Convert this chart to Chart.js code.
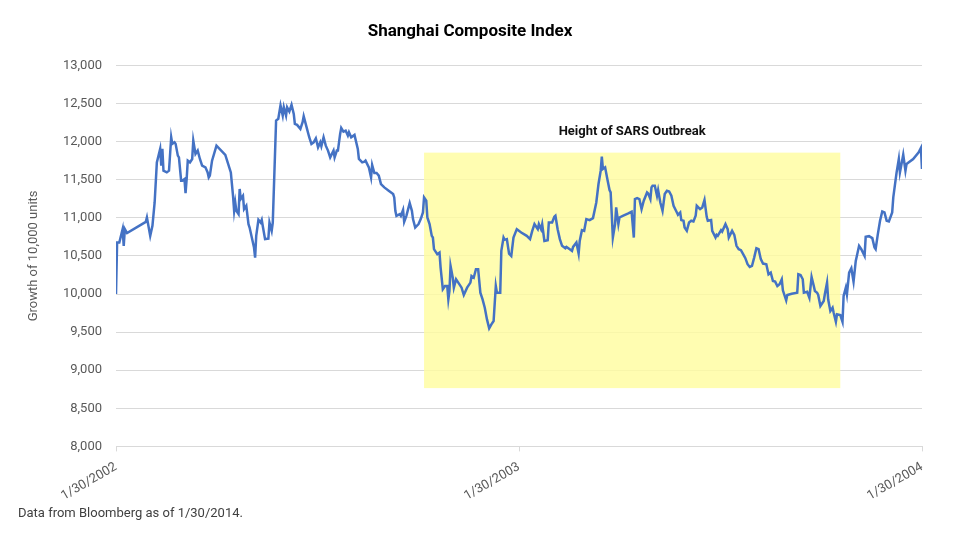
<!DOCTYPE html>
<html>
<head>
<meta charset="utf-8">
<script src="https://cdn.jsdelivr.net/npm/chart.js@4"></script>
<style>
  html, body { margin: 0; padding: 0; background: #fff; }
  #wrap { width: 960px; height: 540px; }
</style>
</head>
<body>
<div id="wrap"><canvas id="chart"></canvas></div>
<script>
// days since 1/30/2002
const days = [
  0, 1, 3, 6, 7, 8, 10, 27, 28, 31,
  33, 35, 37, 40, 41, 42, 43, 46, 48, 50,
  51, 53, 54, 56, 57, 59, 60, 62, 63, 64,
  65, 67, 69, 70, 72, 74, 76, 78, 81, 83,
  84, 85, 87, 91, 99, 104, 106, 107, 108, 109,
  111, 112, 113, 115, 116, 118, 120, 121, 124, 125,
  126, 127, 129, 131, 132, 133, 135, 138, 139, 141,
  142, 145, 147, 149, 151, 152, 154, 155, 157, 159,
  161, 162, 164, 167, 169, 170, 173, 175, 177, 179,
  181, 183, 185, 186, 188, 190, 192, 194, 197, 198,
  200, 201, 203, 204, 206, 208, 210, 211, 213, 216,
  219, 220, 223, 225, 226, 229, 231, 232, 234, 236,
  238, 240, 243, 247, 251, 252, 253, 254, 257, 258,
  260, 261, 263, 266, 268, 269, 271, 274, 276, 278,
  279, 281, 282, 284, 286, 287, 288, 289, 291, 293,
  294, 296, 298, 300, 301, 302, 303, 305, 306, 308,
  310, 313, 315, 318, 321, 322, 324, 326, 328, 330,
  332, 334, 336, 338, 340, 342, 344, 345, 348, 349,
  351, 352, 354, 356, 358, 360, 363, 367, 372, 375,
  377, 379, 380, 382, 383, 385, 386, 388, 391, 392,
  395, 397, 398, 400, 402, 404, 407, 408, 411, 413,
  414, 417, 419, 420, 422, 424, 426, 429, 432,
  435, 437, 439, 440, 441, 443, 445, 447, 448, 449,
  450, 452, 453, 455, 456, 459, 464, 467, 469, 470,
  472, 474, 476, 478, 481, 482, 484, 485, 486, 488,
  490, 491, 493, 495, 497, 499, 501, 503, 505, 508,
  509, 511, 512, 514, 515, 517, 519, 521, 523, 525,
  526, 529, 531, 533, 535, 536, 539, 540, 543, 544,
  545, 548, 549, 552, 554, 555, 558, 560, 562, 564,
  566, 568, 570, 572, 574,
  576, 578, 580, 582, 584, 586, 589, 591, 593, 595,
  597, 599, 601, 603, 604, 607, 608, 612, 617, 618,
  620, 622, 623, 626, 628, 630, 632, 633, 635, 636,
  638, 641, 642, 644, 645, 647, 649, 650, 652, 653,
  656, 658, 659, 661, 662, 664, 666, 668, 670, 671,
  673, 675, 678, 679, 682, 685, 687, 688, 690, 692,
  694, 696, 698, 700, 703, 704, 706, 707, 709, 710,
  712, 713, 715, 716, 722, 727, 729, 730
];

// growth of 10,000 units
const values = [
  10000, 10675, 10675, 10851, 10632, 10851, 10799, 10947, 11004, 10763,
  10895, 11201, 11728, 11904, 11684, 11904, 11618, 11596, 11618, 12057,
  11970, 11991, 11970, 11816, 11793, 11487, 11487, 11509, 11325, 11509,
  11750, 11728, 11772, 12013, 11838, 11882, 11772, 11684, 11662, 11596,
  11530, 11553, 11750, 11947, 11825, 11596, 11289, 11092, 11201, 11092,
  11049, 11378, 11246, 11289, 11114, 11158, 10917, 10872, 10675, 10609,
  10478, 10763, 10974, 10938, 10974, 10886, 10720, 10727, 10938, 10829,
  10938, 12276, 12299, 12474, 12342, 12451, 12342, 12451, 12395, 12483,
  12364, 12233, 12220, 12167, 12254, 12333, 12167, 12057, 11970, 11991,
  12043, 11925, 11991, 11938, 12057, 11947, 11882, 11793, 11882, 11793,
  11882, 11882, 12101, 12180, 12132, 12145, 12079, 12122, 12057, 12088,
  11904, 11772, 11728, 11737, 11750, 11662, 11530, 11693, 11588, 11588,
  11553, 11443, 11399, 11355, 11312, 11267, 11092, 11026, 11049, 11026,
  11105, 10947, 11026, 11193, 11092, 10983, 10872, 10917, 10983, 11070,
  11267, 11224, 11004, 10917, 10763, 10741, 10588, 10566, 10522, 10544,
  10346, 10062, 10105, 10105, 9930, 10039, 10368, 10214, 10083, 10193,
  10149, 10083, 9987, 10083, 10149, 10237, 10214, 10325, 10325, 10017,
  9930, 9820, 9667, 9549, 9601, 9645, 10105, 10017, 10017, 10566,
  10741, 10711, 10720, 10530, 10500, 10741, 10851, 10807, 10763, 10720,
  10829, 10917, 10895, 10851, 10917, 10851, 10917, 10697, 10707, 10938,
  10938, 11013, 11026, 10851, 10720, 10632, 10601, 10618, 10588, 10566,
  10618, 10675, 10530, 10697, 10838, 10829, 10983, 10970, 10996,
  11201, 11443, 11618, 11803, 11641, 11662, 11509, 11364, 11333, 11049,
  10741, 10917, 11136, 10917, 11004, 11026, 11057, 11079, 10741, 11246,
  11259, 11246, 11114, 11224, 11333, 11320, 11246, 11399, 11421, 11421,
  11289, 11364, 11201, 11092, 11312, 11355, 11345, 11289, 11158, 11070,
  11039, 11070, 10970, 10961, 10872, 10829, 10938, 10961, 10951, 11026,
  11158, 11114, 11136, 11233, 11013, 10961, 10970, 10829, 10741, 10776,
  10763, 10838, 10820, 10917, 10851, 10741, 10829, 10776, 10632, 10588,
  10575, 10522, 10470, 10391, 10355,
  10368, 10478, 10601, 10588, 10457, 10399, 10391, 10259, 10280, 10171,
  10162, 10105, 10128, 10193, 10049, 9917, 9987, 10004, 10017, 10259,
  10250, 10193, 10017, 10030, 9951, 10224, 10105, 10039, 10017, 9987,
  9842, 9908, 9996, 10149, 9930, 9776, 9820, 9754, 9636, 9733,
  9724, 9636, 9974, 10083, 9996, 10280, 10338, 10162, 10434, 10500,
  10632, 10588, 10500, 10750, 10759, 10733, 10609, 10588, 10786, 10961,
  11083, 11070, 10961, 10951, 11070, 11267, 11487, 11596, 11772, 11596,
  11750, 11829, 11618, 11707, 11772, 11859, 11917, 11641
];

const xTickDays = [0, 365, 730];
const xTickLabels = ['1/30/2002', '1/30/2003', '1/30/2004'];

// shaded period
const sarsLabel = 'Height of SARS Outbreak';
const sarsStart = 279;
const sarsEnd = 656;
const sarsLow = 8765;
const sarsHigh = 11855;

const points = days.map((d, i) => ({ x: d, y: values[i] }));

// yellow box + label behind the line
const sarsBox = {
    id: 'sarsBox',
    beforeDatasetsDraw(chart) {
        const { ctx, scales } = chart;
        const x1 = scales.x.getPixelForValue(sarsStart);
        const x2 = scales.x.getPixelForValue(sarsEnd);
        const y1 = scales.y.getPixelForValue(sarsHigh);
        const y2 = scales.y.getPixelForValue(sarsLow);
        ctx.save();
        ctx.fillStyle = 'rgba(255, 253, 160, 0.82)';
        ctx.fillRect(x1, y1, x2 - x1, y2 - y1);
        ctx.fillStyle = '#111';
        ctx.font = 'bold 13px Roboto';
        ctx.textAlign = 'center';
        ctx.textBaseline = 'middle';
        ctx.fillText(sarsLabel, (x1 + x2) / 2, y1 - 21);
        ctx.restore();
    }
};

new Chart(document.getElementById('chart'), {
    type: 'line',
    data: {
        datasets: [{
            data: points,
            borderColor: '#4472C4',
            borderWidth: 2.5,
            pointRadius: 0,
            tension: 0,
            fill: false
        }]
    },
    options: {
        responsive: true,
        maintainAspectRatio: false,
        animation: false,
        layout: { padding: { left: 18, right: 38, top: 22, bottom: 18 } },
        plugins: {
            legend: { display: false },
            tooltip: { enabled: false },
            title: {
                display: true,
                text: 'Shanghai Composite Index',
                color: '#000',
                font: { family: 'Roboto', size: 17, weight: 'bold' },
                padding: { top: 0, bottom: 23 }
            },
            subtitle: {
                display: true,
                text: 'Data from Bloomberg as of 1/30/2014.',
                position: 'bottom',
                align: 'start',
                color: '#404040',
                font: { family: 'Roboto', size: 13 },
                padding: { top: 0, bottom: 0 }
            }
        },
        scales: {
            x: {
                type: 'linear',
                min: 0,
                max: 730,
                afterBuildTicks: (axis) => { axis.ticks = xTickDays.map(v => ({ value: v })); },
                afterFit: (axis) => { axis.height = 60; },
                ticks: {
                    minRotation: 30,
                    maxRotation: 30,
                    color: '#595959',
                    font: { family: 'Roboto', size: 13 },
                    padding: 8,
                    callback: (v) => xTickLabels[xTickDays.indexOf(v)]
                },
                grid: { drawOnChartArea: false, drawTicks: true, tickLength: 5, color: '#d9d9d9' },
                border: { display: false }
            },
            y: {
                min: 8000,
                max: 13000,
                afterFit: (axis) => { axis.width = 98; },
                ticks: {
                    stepSize: 500,
                    color: '#595959',
                    font: { family: 'Roboto', size: 13 },
                    padding: 14
                },
                grid: { color: '#d9d9d9', drawTicks: false },
                border: { display: false },
                title: {
                    display: true,
                    text: 'Growth of 10,000 units',
                    color: '#595959',
                    font: { family: 'Roboto', size: 13 },
                    padding: { top: 8, bottom: 0 }
                }
            }
        }
    },
    plugins: [sarsBox]
});
</script>
</body>
</html>
